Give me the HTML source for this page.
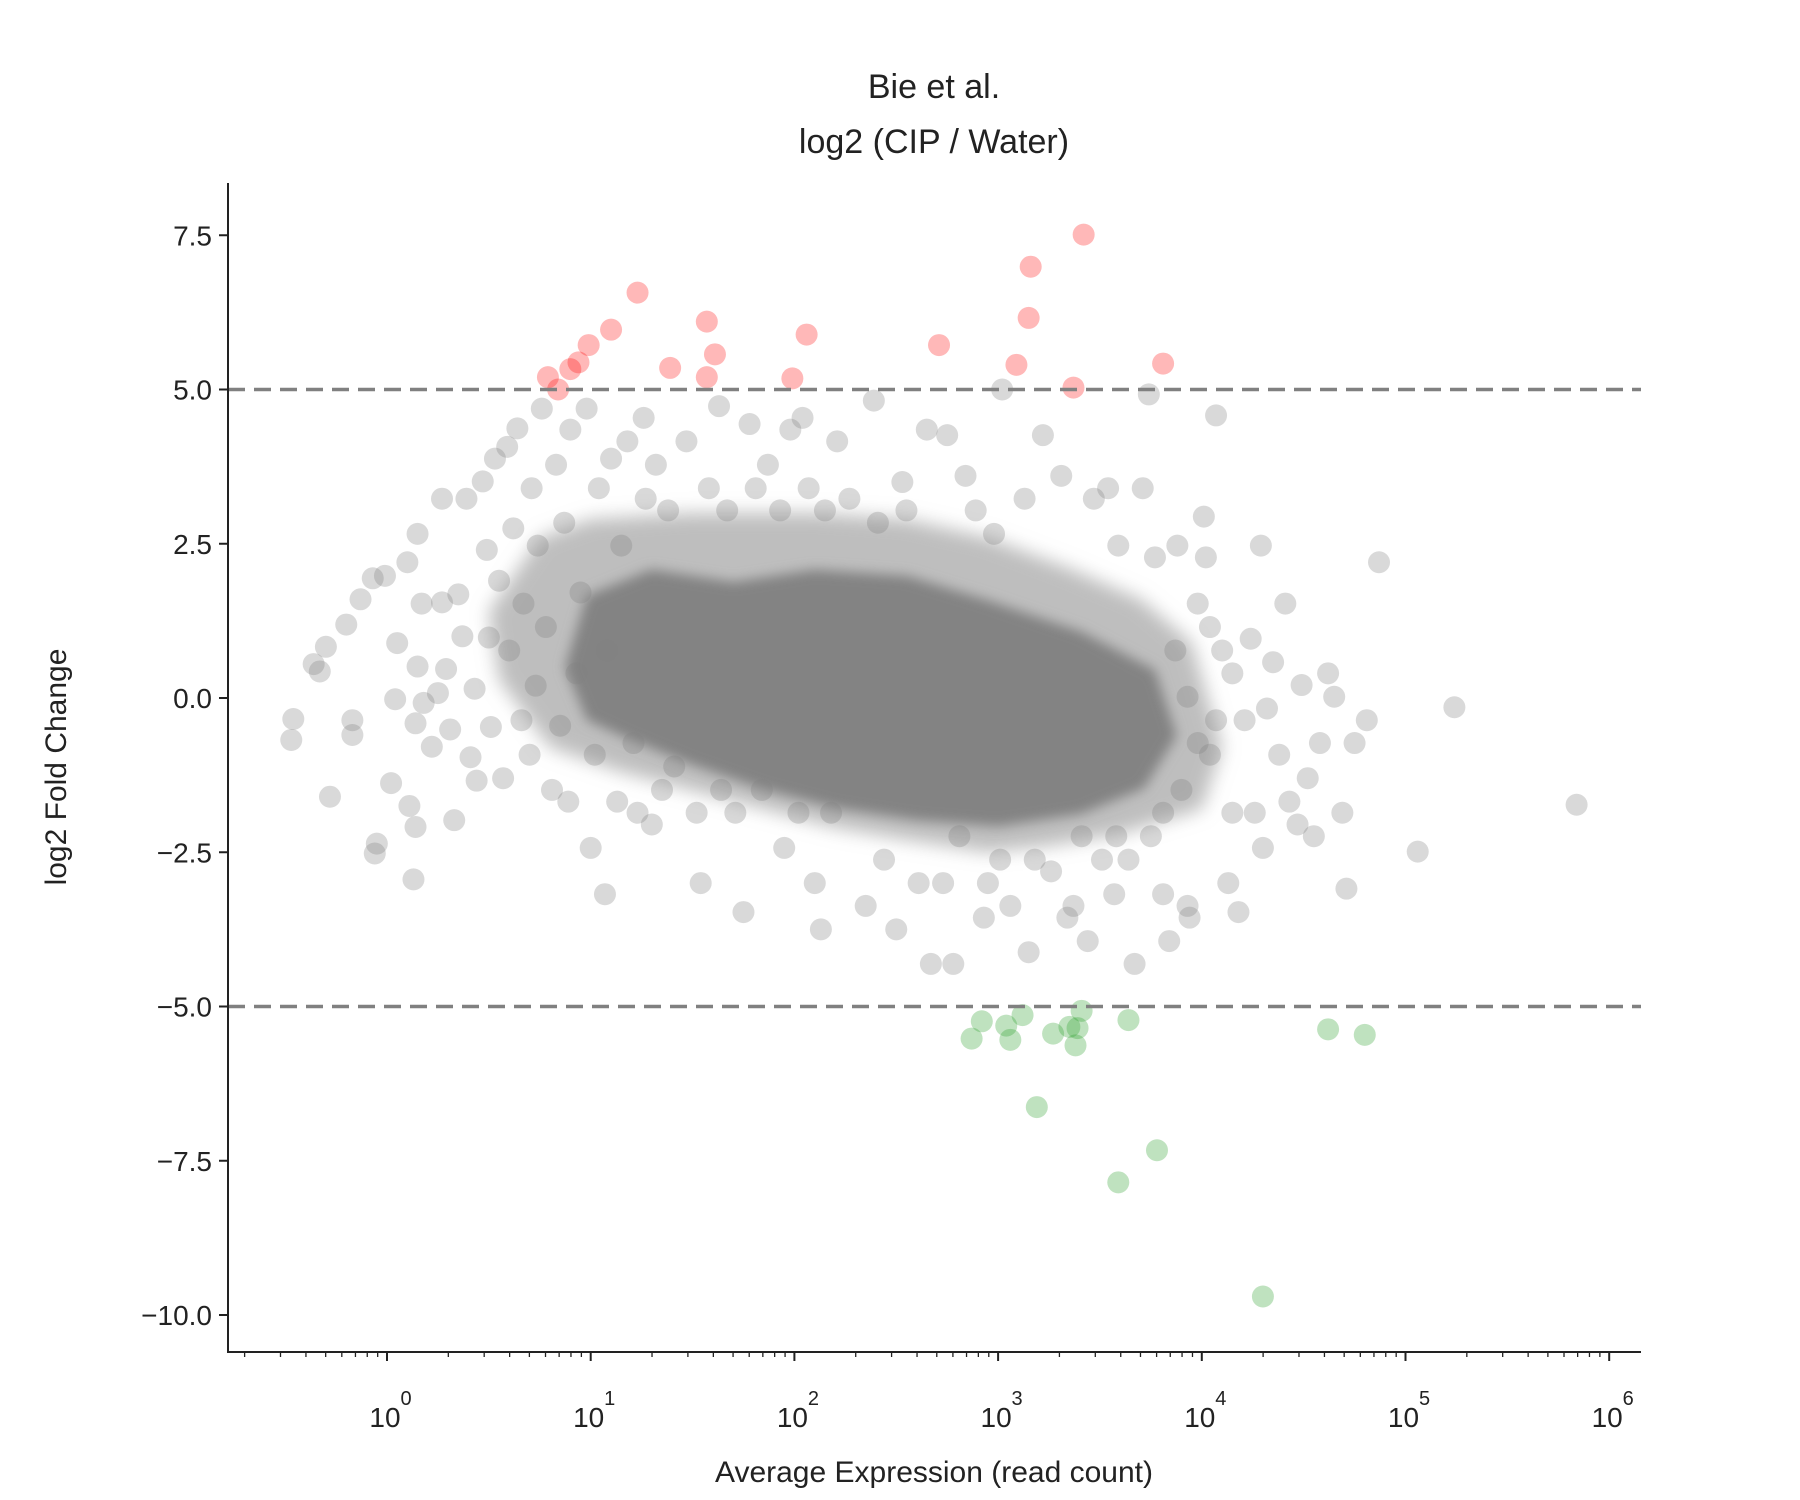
<!DOCTYPE html>
<html><head><meta charset="utf-8"><style>
html,body{margin:0;padding:0;background:#fff;}
svg{display:block;font-family:"Liberation Sans","DejaVu Sans",sans-serif;}
</style></head>
<body>
<svg id="chart" width="1800" height="1500" viewBox="0 0 1800 1500" xmlns="http://www.w3.org/2000/svg">
<defs>
<filter id="soft" x="-20%" y="-20%" width="140%" height="140%"><feGaussianBlur stdDeviation="9"/></filter>
<filter id="soft2" x="-20%" y="-20%" width="140%" height="140%"><feGaussianBlur stdDeviation="6"/></filter>
</defs>
<rect width="1800" height="1500" fill="#fff"/>
<text x="934" y="98" font-size="34" text-anchor="middle" fill="#222">Bie et al.</text>
<text x="934" y="153" font-size="34" text-anchor="middle" fill="#222">log2 (CIP / Water)</text>
<g id="plot"></g>
<g id="axes"></g>
<text x="934" y="1482" font-size="30" text-anchor="middle" fill="#222">Average Expression (read count)</text>
<text x="0" y="0" font-size="30" text-anchor="middle" fill="#222" transform="translate(66,767) rotate(-90)">log2 Fold Change</text>
</svg>
<script>
// data: x values are log10(read count), y values are log2 fold change
const yTicks = [7.5, 5.0, 2.5, 0.0, -2.5, -5.0, -7.5, -10.0];
const yTickLabels = ["7.5","5.0","2.5","0.0","\u22122.5","\u22125.0","\u22127.5","\u221210.0"];
const xDecades = [0,1,2,3,4,5,6];
const thresholds = [5, -5];
const haloX = [0.5,0.75,1.0,1.5,2.1,2.55,2.95,3.35,3.7,3.95,4.1,4.0,3.6,3.24,2.95,2.55,2.2,1.85,1.5,1.15,0.8,0.55];
const haloY = [1.4,2.6,2.9,3.0,3.0,2.9,2.6,2.1,1.6,0.9,-0.8,-1.8,-2.2,-2.4,-2.5,-2.3,-2.1,-1.8,-1.5,-1.2,-0.8,0.3];
const coreX = [1.0,1.3,1.7,2.1,2.55,2.95,3.4,3.75,3.85,3.7,3.4,3.0,2.6,2.2,1.85,1.5,1.2,1.0,0.9];
const coreY = [1.6,2.0,1.8,2.0,1.9,1.5,1.0,0.4,-0.6,-1.4,-1.8,-2.0,-1.9,-1.7,-1.4,-1.0,-0.6,-0.3,0.5];
const upX = [0.79,0.84,0.9,0.94,0.99,1.10,1.23,1.39,1.57,1.57,1.61,1.99,2.06,2.71,3.09,3.16,3.15,3.42,3.37,3.81];
const upY = [5.2,5.0,5.33,5.44,5.72,5.97,6.57,5.35,6.1,5.2,5.57,5.18,5.89,5.72,5.4,6.99,6.16,7.51,5.03,5.42];
const downX = [2.87,2.92,3.04,3.06,3.12,3.19,3.27,3.35,3.39,3.38,3.41,3.59,3.64,3.78,4.30,4.62,4.80];
const downY = [-5.52,-5.24,-5.31,-5.54,-5.14,-6.63,-5.44,-5.33,-5.35,-5.63,-5.07,-7.85,-5.22,-7.33,-9.70,-5.37,-5.46];
const greyX = [-0.46,-0.47,-0.36,-0.33,-0.30,-0.28,-0.2,-0.17,-0.17,-0.13,-0.07,-0.05,-0.06,-0.01,0.02,0.04,0.05,0.1,0.11,0.13,0.14,0.14,0.15,0.15,0.17,0.18,0.22,0.25,0.27,0.27,0.29,0.31,0.33,0.35,0.37,0.39,0.41,0.43,0.44,0.47,0.49,0.5,0.51,0.53,0.55,0.57,0.59,0.6,0.62,0.64,0.66,0.67,0.7,0.71,0.73,0.74,0.76,0.78,0.81,0.83,0.85,0.87,0.89,0.9,0.93,0.95,0.98,1.0,1.02,1.04,1.07,1.08,1.1,1.13,1.15,1.18,1.21,1.23,1.26,1.27,1.3,1.32,1.35,1.38,1.41,1.47,1.52,1.54,1.58,1.63,1.64,1.67,1.71,1.75,1.78,1.81,1.84,1.87,1.93,1.95,1.98,2.02,2.04,2.07,2.1,2.13,2.15,2.18,2.21,2.27,2.35,2.39,2.41,2.44,2.5,2.53,2.55,2.61,2.65,2.67,2.73,2.75,2.78,2.81,2.84,2.89,2.93,2.95,2.98,3.01,3.02,3.06,3.13,3.15,3.18,3.22,3.26,3.31,3.34,3.37,3.41,3.44,3.47,3.51,3.54,3.57,3.59,3.64,3.67,3.71,3.74,3.77,3.81,3.84,3.88,3.93,3.94,3.98,4.01,4.02,4.04,4.07,4.1,4.13,4.15,4.18,4.21,4.24,4.26,4.29,4.3,4.32,4.35,4.38,4.41,4.43,4.47,4.49,4.52,4.55,4.58,4.62,4.65,4.69,4.71,4.75,4.81,4.87,5.06,5.24,5.84,3.87,3.93,3.98,3.9,4.07,4.15,3.81,3.75,3.58,4.04];
const greyY = [-0.34,-0.68,0.55,0.43,0.83,-1.6,1.19,-0.36,-0.6,1.6,1.94,-2.36,-2.52,1.98,-1.38,-0.02,0.89,2.2,-1.75,-2.94,-2.09,-0.41,0.51,2.66,1.53,-0.08,-0.79,0.08,1.55,3.23,0.47,-0.51,-1.98,1.68,1.0,3.23,-0.96,0.15,-1.34,3.51,2.4,0.98,-0.47,3.88,1.9,-1.3,4.07,0.77,2.75,4.37,-0.36,1.53,-0.92,3.4,0.2,2.47,4.69,1.15,-1.49,3.78,-0.45,2.84,-1.68,4.35,0.4,1.71,4.69,-2.43,-0.92,3.4,-3.18,0.77,3.88,-1.68,2.47,4.16,-0.73,-1.86,4.54,3.23,-2.05,3.78,-1.49,3.04,-1.11,4.16,-1.86,-3.0,3.4,4.73,-1.49,3.04,-1.86,-3.47,4.44,3.4,-1.49,3.78,3.04,-2.43,4.35,-1.86,4.54,3.4,-3.0,-3.75,3.04,-1.86,4.16,3.23,-3.37,4.82,2.84,-2.62,-3.75,3.5,3.04,-3.0,4.35,-4.31,-3.0,4.26,-4.31,-2.24,3.6,3.04,-3.56,-3.0,2.66,-2.62,5.0,-3.37,3.23,-4.12,-2.62,4.26,-2.81,3.6,-3.56,-3.37,-2.24,-3.94,3.23,-2.62,3.4,-3.18,2.47,-2.62,-4.31,3.4,4.92,2.28,-3.18,-3.94,2.47,-3.37,-3.56,1.53,2.94,2.28,-0.92,4.58,0.77,-3.0,-1.86,-3.47,-0.36,0.96,-1.86,2.47,-2.43,-0.17,0.58,-0.92,1.53,-1.68,-2.05,0.21,-1.3,-2.24,-0.73,0.4,0.02,-1.86,-3.09,-0.73,-0.36,2.2,-2.49,-0.15,-1.73,0.77,0.02,-0.73,-1.49,-0.36,0.4,-1.86,-2.24,-2.24,1.15];

const NS = "http://www.w3.org/2000/svg";
const L = 228, R = 1641, T = 183, B = 1352;
function sx(lx){ return 387 + lx * 203.7; }
function sy(v){ return 698 - v * 61.7; }
const plot = document.getElementById('plot');
const axes = document.getElementById('axes');
function mk(tag, attrs, parent){ const e = document.createElementNS(NS, tag); for (const k in attrs) e.setAttribute(k, attrs[k]); parent.appendChild(e); return e; }

// density regions
let hp = haloX.map((x,i)=>sx(x)+','+sy(haloY[i])).join(' ');
const halo = mk('polygon', {points: hp, fill:'#a8a8a8', 'fill-opacity':'0.75', filter:'url(#soft)'}, plot);


let cp = coreX.map((x,i)=>sx(x)+','+sy(coreY[i])).join(' ');
const core = mk('polygon', {points: cp, fill:'#838383', stroke:'#838383', 'stroke-width':'10', 'stroke-linejoin':'round', filter:'url(#soft2)'}, plot);



greyX.forEach((x,i)=>{
  const c = mk('circle', {cx: sx(x), cy: sy(greyY[i]), r: 11, fill:'#808080', 'fill-opacity':'0.3'}, plot);
  
  
});
upX.forEach((x,i)=>{
  const c = mk('circle', {cx: sx(x), cy: sy(upY[i]), r: 11, fill:'#ff0000', 'fill-opacity':'0.28'}, plot);
  
  
});
downX.forEach((x,i)=>{
  const c = mk('circle', {cx: sx(x), cy: sy(downY[i]), r: 11, fill:'#2ca02c', 'fill-opacity':'0.3'}, plot);
  
  
});
thresholds.forEach(t=>{
  const l = mk('line', {x1:L, x2:R, y1:sy(t), y2:sy(t), stroke:'#808080', 'stroke-width':'3.5', 'stroke-dasharray':'17,9'}, plot);
  
  
});

// axes spines
const sl = mk('line', {x1:L, x2:L, y1:T, y2:B+1, stroke:'#222', 'stroke-width':'2'}, axes);


const sb = mk('line', {x1:L-1, x2:R, y1:B, y2:B, stroke:'#222', 'stroke-width':'2'}, axes);



yTicks.forEach((v,i)=>{
  const tk = mk('line', {x1:L-9, x2:L, y1:sy(v), y2:sy(v), stroke:'#222', 'stroke-width':'2'}, axes);
  
  
  const tx = mk('text', {x:L-16, y:sy(v)+10, 'font-size':'28', 'text-anchor':'end', fill:'#222'}, axes);
  tx.textContent = yTickLabels[i];
  
  
});
// x ticks (log)
for (let d = -1; d <= 6; d++){
  for (let m = 2; m <= 9; m++){
    const lx = d + Math.log10(m);
    const px = sx(lx);
    if (px <= L + 2 || px >= R) continue;
    const tk = mk('line', {x1:px, x2:px, y1:B, y2:B+5, stroke:'#222', 'stroke-width':'1.3'}, axes);
    
    
  }
}
xDecades.forEach(d=>{
  const px = sx(d);
  const tk = mk('line', {x1:px, x2:px, y1:B, y2:B+9, stroke:'#222', 'stroke-width':'2'}, axes);
  
  
  const tx = mk('text', {x:px-2, y:1427, 'font-size':'28', 'text-anchor':'middle', fill:'#222'}, axes);
  tx.textContent = '10';
  
  
  const sup = mk('text', {x:px+19, y:1405, 'font-size':'20', 'text-anchor':'middle', fill:'#222'}, axes);
  sup.textContent = String(d);
  
  
});
</script>
</body></html>
